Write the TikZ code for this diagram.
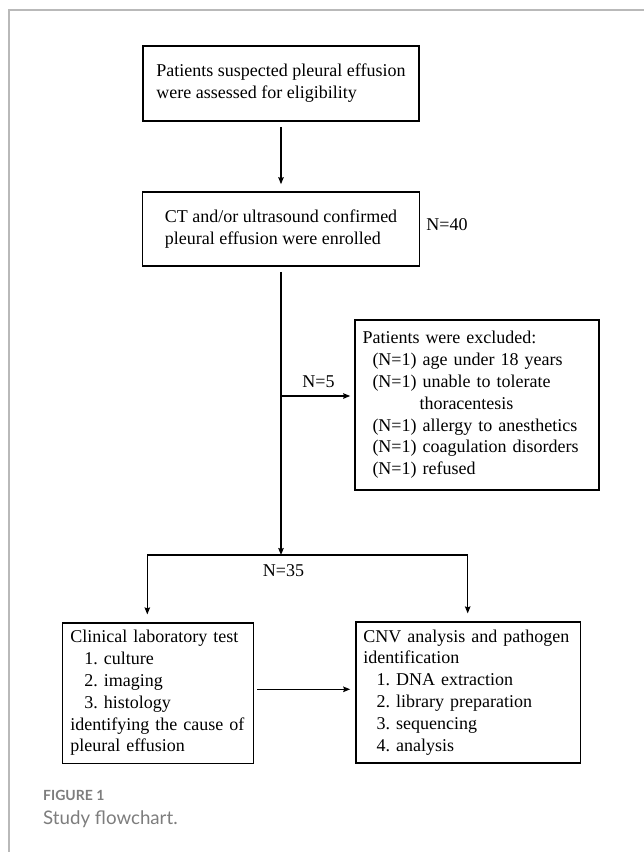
\documentclass[tikz,border=0pt]{standalone}
\usepackage{fontspec}
\usepackage{tikz}
\usetikzlibrary{arrows.meta}
\setmainfont{Liberation Serif}
\newfontfamily\capfont{Lato}
\definecolor{framegray}{RGB}{185,185,185}
\definecolor{capgray}{RGB}{125,125,125}
\newcommand{\boxfont}{\fontsize{18}{21.8}\selectfont\frenchspacing}
\newcommand{\indentby}[1][14pt]{\hspace*{#1}}

\begin{document}
\begin{tikzpicture}
  [x=1pt,y=-1pt,every node/.style={font=\boxfont},
   flow/.style={draw,line width=1.6pt,align=left,inner sep=0pt},
   link/.style={line width=1.3pt,-{Stealth[length=7pt,width=5.5pt,inset=1pt]}}]

  \useasboundingbox (0,0) rectangle (644,852);
  \draw[framegray,line width=1.3pt] (9,852) -- (9,10) -- (644,10);

  \node[flow,minimum width=276.5pt,minimum height=75pt] (box1) at (281,83.5)
    {Patients suspected pleural effusion\\were assessed for eligibility};
  \node[flow,minimum width=277pt,minimum height=74pt] (box2) at (281,229)
    {CT and/or ultrasound confirmed\\pleural effusion were enrolled};
  \node (n40) at (447,225) {N=40};
  \node[flow,text width=229pt,inner xsep=7.5pt,minimum height=170pt] (excl) at (477,405)
    {Patients were excluded:\\
     \indentby[10pt](N=1) age under 18 years\\
     \indentby[10pt](N=1) unable to tolerate\\
     \indentby[57pt]thoracentesis\\
     \indentby[10pt](N=1) allergy to anesthetics\\
     \indentby[10pt](N=1) coagulation disorders\\
     \indentby[10pt](N=1) refused};
  \node (n5) at (318.5,381.5) {N=5};
  \node (n35) at (283.5,570.7) {N=35};
  \node[flow,text width=175pt,inner xsep=8pt,minimum height=140.6pt] (clin) at (157.8,693)
    {Clinical laboratory test\\
     \indentby 1. culture\\
     \indentby 2. imaging\\
     \indentby 3. histology\\
     identifying the cause of\\
     pleural effusion};
  \node[flow,text width=210pt,inner xsep=7.3pt,minimum height=141pt] (cnv) at (468.3,692.2)
    {CNV analysis and pathogen\\
     identification\\
     \indentby[13.4pt]1. DNA extraction\\
     \indentby[13.4pt]2. library preparation\\
     \indentby[13.4pt]3. sequencing\\
     \indentby[13.4pt]4. analysis};

  \coordinate (split) at (281,555);
  \coordinate (splitL) at (147.3,555);
  \coordinate (splitR) at (467.7,555);
  \coordinate (branch) at (281,396);

  \draw[link,shorten <=5pt,shorten >=7pt] (box1) -- (box2);
  \draw[link,shorten <=5pt] (box2) -- (split);
  \draw[link,shorten >=4pt] (branch) -- (branch -| excl.west);
  \draw[line width=1.3pt] (splitL) -- (splitR);
  \foreach \from/\to in {splitL/clin,splitR/cnv}
    \draw[link,shorten >=7.5pt] (\from) -- (\from |- \to.north);
  \draw[link,shorten <=3pt,shorten >=5pt] ([yshift=3.7pt]clin.east) -- ([yshift=3.7pt]clin.east -| cnv.west);

  \node[anchor=base west,font=\capfont\bfseries\fontsize{14}{16}\selectfont,text=capgray,
        inner sep=0pt,text depth=0pt] (fig) at (43,800.7) {FIGURE 1};
  \node[anchor=base west,font=\capfont\fontsize{18.7}{22}\selectfont,text=capgray,
        inner sep=0pt] (cap) at (43,824) {Study flowchart.};
\end{tikzpicture}
\end{document}
